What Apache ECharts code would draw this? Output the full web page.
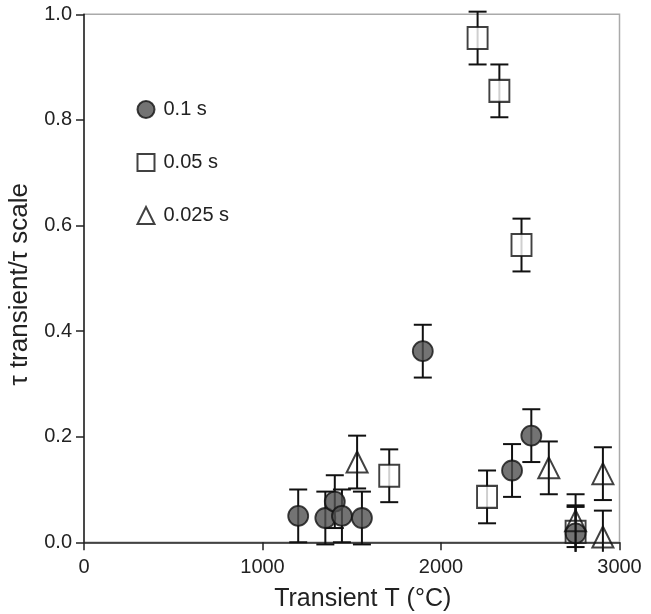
<!DOCTYPE html>
<html><head><meta charset="utf-8">
<script src="https://cdn.jsdelivr.net/npm/echarts@6/dist/echarts.min.js"></script>
<style>html,body{margin:0;padding:0;background:#fff}#c{width:651px;height:614px}</style>
</head><body><div id="c"></div>
<script>
// 0.1 s (filled circles)
const circleX = [1200, 1352, 1405, 1445, 1557, 1898, 2398, 2506, 2754];
const circleY = [0.050, 0.046, 0.077, 0.050, 0.046, 0.362, 0.136, 0.202, 0.017];
const circleErr = [0.05, 0.05, 0.05, 0.05, 0.05, 0.05, 0.05, 0.05, 0.05];
// 0.05 s (open squares)
const squareX = [1710, 2205, 2258, 2327, 2451, 2754];
const squareY = [0.126, 0.955, 0.086, 0.855, 0.563, 0.020];
const squareErr = [0.05, 0.05, 0.05, 0.05, 0.05, 0.05];
// 0.025 s (open triangles)
const triX = [1530, 2604, 2754, 2907, 2907];
const triY = [0.152, 0.141, 0.041, 0.130, 0.010];
const triErr = [0.05, 0.05, 0.05, 0.05, 0.05];

const seriesNames = ['0.1 s', '0.05 s', '0.025 s'];
const xTicks = [0, 1000, 2000, 3000];
const yTicks = [0, 0.2, 0.4, 0.6, 0.8, 1.0];
const CLIP_LOW = -0.018;

function pts(xs, ys) { return xs.map((x, i) => [x, ys[i]]); }
function errPts(xs, ys, es) { return xs.map((x, i) => [x, ys[i], es[i]]); }

function renderErr(params, api) {
  const x = api.value(0), y = api.value(1), e = api.value(2);
  const lowVal = y - e;
  const lo = Math.max(lowVal, CLIP_LOW);
  const pTop = api.coord([x, y + e]);
  const pBot = api.coord([x, lo]);
  const half = 9;
  const st = { stroke: '#111', lineWidth: 2 };
  const ch = [
    { type: 'line', shape: { x1: pTop[0], y1: pTop[1], x2: pBot[0], y2: pBot[1] }, style: st },
    { type: 'line', shape: { x1: pTop[0] - half, y1: pTop[1], x2: pTop[0] + half, y2: pTop[1] }, style: st }
  ];
  if (lowVal >= CLIP_LOW) {
    ch.push({ type: 'line', shape: { x1: pBot[0] - half, y1: pBot[1], x2: pBot[0] + half, y2: pBot[1] }, style: st });
  }
  return { type: 'group', children: ch };
}

const chart = echarts.init(document.getElementById('c'), null, { renderer: 'canvas' });
const font = 'Liberation Sans, Arial, sans-serif';
chart.setOption({
  animation: false,
  backgroundColor: '#fff',
  textStyle: { fontFamily: font },
  grid: { left: 84, right: 31.5, top: 14.3, bottom: 71.7, show: true, borderColor: '#aaa', borderWidth: 1.5, outerBoundsMode: 'none', containLabel: false },
  legend: {
    orient: 'vertical', left: 136.5, top: 99.5, padding: 0, itemWidth: 17, itemHeight: 17, itemGap: 33,
    data: seriesNames,
    textStyle: { fontSize: 20, lineHeight: 17, color: '#222', fontFamily: font, padding: [0, 0, 0, 4] }
  },
  xAxis: {
    type: 'value', min: xTicks[0], max: xTicks[xTicks.length - 1], interval: 1000,
    name: 'Transient T (°C)', nameLocation: 'middle', nameGap: 44,
    nameTextStyle: { fontSize: 25, color: '#222', fontFamily: font, padding: [0, 0, 0, 22] },
    axisLine: { show: true, onZero: false, lineStyle: { color: '#222', width: 1.5 } },
    axisTick: { show: true, inside: false, length: 8, lineStyle: { color: '#222', width: 1.5 } },
    axisLabel: { fontSize: 20, color: '#222', margin: 15, fontFamily: font, formatter: v => String(v) },
    splitLine: { show: false }
  },
  yAxis: {
    type: 'value', min: yTicks[0], max: yTicks[yTicks.length - 1], interval: 0.2,
    name: 'τ transient/τ scale', nameLocation: 'middle', nameGap: 39,
    nameTextStyle: { fontSize: 26, color: '#222', fontFamily: font, padding: [0, 12, 0, 0] },
    axisLine: { show: true, onZero: false, lineStyle: { color: '#222', width: 1.5 } },
    axisTick: { show: true, inside: false, length: 8, lineStyle: { color: '#222', width: 1.5 } },
    axisLabel: { fontSize: 20, color: '#222', margin: 12, fontFamily: font, formatter: v => v.toFixed(1) },
    splitLine: { show: false }
  },
  series: [
    { type: 'custom', name: 'err1', renderItem: renderErr, data: errPts(squareX, squareY, squareErr), clip: false, z: 1, silent: true },
    { type: 'scatter', name: seriesNames[1], symbol: 'rect', symbolSize: [20, 22], data: pts(squareX, squareY),
      itemStyle: { color: '#fff', borderColor: '#111', borderWidth: 2 }, z: 2, clip: false },
    { type: 'custom', name: 'err0', renderItem: renderErr, data: errPts(circleX, circleY, circleErr), clip: false, z: 3, silent: true },
    { type: 'scatter', name: seriesNames[0], symbol: 'circle', symbolSize: 20, data: pts(circleX, circleY),
      itemStyle: { color: '#505050', borderColor: '#111', borderWidth: 1.8 }, z: 4, clip: false },
    { type: 'custom', name: 'err2', renderItem: renderErr, data: errPts(triX, triY, triErr), clip: false, z: 5, silent: true },
    { type: 'scatter', name: seriesNames[2], symbol: 'triangle', symbolSize: 21, data: pts(triX, triY),
      itemStyle: { color: 'rgba(0,0,0,0)', borderColor: '#111', borderWidth: 2 }, z: 6, clip: false }
  ]
});
</script></body></html>
